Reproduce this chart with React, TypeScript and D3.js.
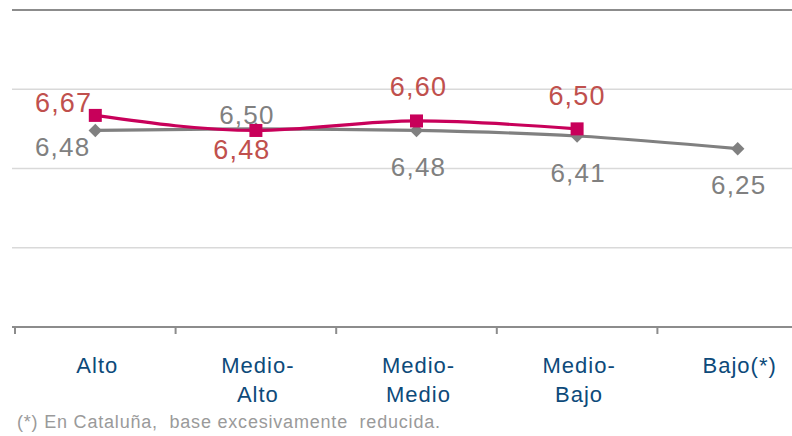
import React from "react";
import * as d3 from "d3";

const categories = ["Alto", "Medio-Alto", "Medio-Medio", "Medio-Bajo", "Bajo(*)"];
const categoryLines = [["Alto"], ["Medio-", "Alto"], ["Medio-", "Medio"], ["Medio-", "Bajo"], ["Bajo(*)"]];
const pinkValues = [6.67, 6.48, 6.6, 6.5];
const grayValues = [6.48, 6.5, 6.48, 6.41, 6.25];
const yTicks = [4, 5, 6, 7, 8];
const footnote = "(*) En Cataluña,  base excesivamente  reducida.";

// label placements (layout only)
const pinkLabelPos = [
  { anchor: "end", dx: -3, dy: -3 },
  { anchor: "middle", dx: -14, dy: 29 },
  { anchor: "middle", dx: 2, dy: -25 },
  { anchor: "middle", dx: 0, dy: -24 },
];
const grayLabelPos = [
  { anchor: "end", dx: -5, dy: 26 },
  { anchor: "middle", dx: -9, dy: -5 },
  { anchor: "middle", dx: 2, dy: 46 },
  { anchor: "middle", dx: 1, dy: 46 },
  { anchor: "middle", dx: 1, dy: 45 },
];

const W = 792;
const H = 436;
const PINK = "#C8005A";
const PINK_TEXT = "#C0504D";
const GRAY = "#808080";
const AXIS_TEXT = "#0D4A7A";
const FONT = "'Liberation Sans', Arial, sans-serif";

const fmt = (v: number) => v.toFixed(2).replace(".", ",");

export default function App() {
  const x = d3.scaleBand<string>().domain(categories).range([15, 818]).paddingInner(0).paddingOuter(0);
  const y = d3.scaleLinear().domain([4, 8]).range([327, 10]);
  const cx = (i: number) => (x(categories[i]) as number) + x.bandwidth() / 2;

  const lineGen = d3
    .line<number>()
    .x((_, i) => cx(i))
    .y((d) => y(d))
    .curve(d3.curveMonotoneX);

  const diamond = d3.symbol().type(d3.symbolSquare).size(90)();

  return (
    <svg width={W} height={H} style={{ position: "absolute", left: 0, top: 0 }} fontFamily={FONT}>
      <rect width={W} height={H} fill="#fff" />
      {yTicks.map((t) => {
        const isEdge = t === 8 || t === 4;
        return (
          <line
            key={t}
            x1={12}
            x2={W}
            y1={y(t)}
            y2={y(t)}
            stroke={isEdge ? "#8c8c8c" : "#d9d9d9"}
            strokeWidth={isEdge ? 2 : 1.5}
          />
        );
      })}
      {categories.map((c) => (
        <line
          key={c}
          x1={x(c) as number}
          x2={x(c) as number}
          y1={y(4)}
          y2={y(4) + 7}
          stroke="#8c8c8c"
          strokeWidth={2}
        />
      ))}
      <path d={lineGen(grayValues) || ""} fill="none" stroke={GRAY} strokeWidth={3.2} />
      <path d={lineGen(pinkValues) || ""} fill="none" stroke={PINK} strokeWidth={3.2} />
      {grayValues.map((v, i) => (
        <path
          key={"gd" + i}
          d={diamond || ""}
          transform={`translate(${cx(i)},${y(v)}) rotate(45)`}
          fill={GRAY}
        />
      ))}
      {pinkValues.map((v, i) => (
        <rect key={"pr" + i} x={cx(i) - 6.5} y={y(v) - 6.5} width={13} height={13} fill={PINK} />
      ))}
      {pinkValues.map((v, i) => (
        <text
          key={"pl" + i}
          x={cx(i) + pinkLabelPos[i].dx}
          y={y(v) + pinkLabelPos[i].dy}
          textAnchor={pinkLabelPos[i].anchor as any}
          fontSize={27}
          letterSpacing={1.2}
          fill={PINK_TEXT}
        >
          {fmt(v)}
        </text>
      ))}
      {grayValues.map((v, i) => (
        <text
          key={"gl" + i}
          x={cx(i) + grayLabelPos[i].dx}
          y={y(v) + grayLabelPos[i].dy}
          textAnchor={grayLabelPos[i].anchor as any}
          fontSize={26}
          letterSpacing={1.2}
          fill={GRAY}
        >
          {fmt(v)}
        </text>
      ))}
      {categoryLines.map((lines, i) => (
        <text key={"cl" + i} textAnchor="middle" fontSize={22} letterSpacing={1} fill={AXIS_TEXT}>
          {lines.map((l, j) => (
            <tspan key={j} x={cx(i) + 2} y={373 + j * 29}>
              {l}
            </tspan>
          ))}
        </text>
      ))}
      <text x={17} y={428} fontSize={18} letterSpacing={0.8} fill="#9a9a9a" style={{ whiteSpace: "pre" }}>
        {footnote}
      </text>
    </svg>
  );
}
